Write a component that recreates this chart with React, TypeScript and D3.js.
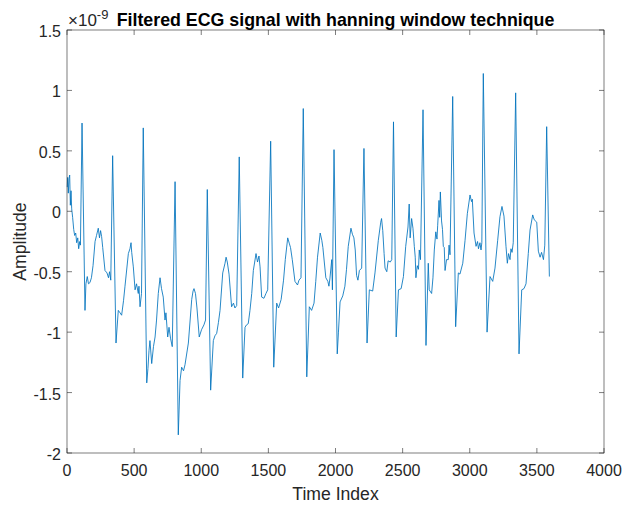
import React, { useEffect, useRef } from "react";
import * as d3 from "d3";

// samples (amplitude in units of 1e-9)
const timeIndex = [
  2, 5, 10, 15, 20, 25, 30, 35, 42, 50, 57, 65, 72, 80, 87, 95, 100, 112, 134, 141,
  151, 160, 171, 182, 194, 209, 220, 233, 242, 250, 258, 266, 283, 298, 309, 317, 326, 340, 365, 382,
  395, 407, 421, 432, 457, 469, 477, 482, 494, 507, 518, 531, 536, 544, 555, 568, 594, 603, 611, 618,
  631, 644, 656, 667, 680, 693, 704, 717, 730, 737, 750, 760, 771, 784, 805, 829, 842, 854, 868, 879,
  904, 929, 939, 946, 957, 968, 985, 1002, 1020, 1032, 1045, 1070, 1090, 1102, 1115, 1128, 1140, 1160, 1177, 1185,
  1194, 1207, 1226, 1240, 1251, 1264, 1283, 1309, 1326, 1337, 1350, 1363, 1376, 1388, 1408, 1419, 1430, 1438, 1450, 1467,
  1482, 1495, 1517, 1540, 1562, 1576, 1595, 1613, 1626, 1644, 1657, 1665, 1678, 1698, 1717, 1728, 1743, 1760, 1786, 1805,
  1822, 1840, 1853, 1866, 1886, 1898, 1906, 1928, 1943, 1951, 1958, 1972, 1977, 1989, 2013, 2022, 2034, 2054, 2070, 2082,
  2095, 2115, 2126, 2137, 2147, 2157, 2167, 2178, 2195, 2212, 2235, 2252, 2277, 2294, 2319, 2337, 2343, 2352, 2362, 2369,
  2382, 2392, 2408, 2419, 2432, 2452, 2469, 2489, 2506, 2523, 2540, 2549, 2556, 2567, 2577, 2587, 2594, 2599, 2609, 2618,
  2624, 2633, 2652, 2674, 2691, 2698, 2716, 2726, 2736, 2747, 2756, 2761, 2771, 2776, 2781, 2790, 2797, 2803, 2810, 2816,
  2827, 2840, 2846, 2853, 2873, 2895, 2915, 2927, 2948, 2965, 2982, 3002, 3013, 3019, 3032, 3047, 3058, 3065, 3076, 3084,
  3090, 3101, 3129, 3151, 3171, 3188, 3208, 3225, 3240, 3255, 3270, 3280, 3289, 3300, 3307, 3315, 3324, 3342, 3367, 3387,
  3404, 3419, 3436, 3449, 3469, 3480, 3499, 3511, 3524, 3535, 3549, 3559, 3573, 3593,
];
const amplitude = [
  0.2, 0.28, 0.15, 0.27, 0.3, 0.05, 0.17, 0.02, -0.05, -0.15, -0.2, -0.18, -0.26, -0.22, -0.31, -0.25, -0.28, 0.73, -0.82, -0.6,
  -0.54, -0.6, -0.59, -0.55, -0.45, -0.25, -0.2, -0.14, -0.22, -0.16, -0.21, -0.3, -0.49, -0.51, -0.55, -0.5, -0.57, 0.46, -1.09, -0.82,
  -0.84, -0.86, -0.74, -0.62, -0.35, -0.31, -0.26, -0.34, -0.46, -0.65, -0.6, -0.68, -0.62, -0.79, -0.68, 0.69, -1.42, -1.3, -1.15, -1.07,
  -1.26, -1.12, -1.04, -0.9, -0.68, -0.55, -0.64, -0.71, -0.9, -0.84, -1.04, -0.96, -1.05, -1.12, 0.245, -1.85, -1.4, -1.29, -1.32, -1.27,
  -1.09, -0.73, -0.66, -0.64, -0.68, -0.8, -1.04, -0.98, -0.94, -0.9, 0.18, -1.48, -1.07, -1.03, -1.01, -0.92, -0.82, -0.51, -0.43, -0.38,
  -0.42, -0.52, -0.79, -0.76, -0.8, -0.78, 0.45, -1.38, -0.96, -0.94, -0.93, -0.82, -0.68, -0.49, -0.35, -0.42, -0.37, -0.46, -0.71, -0.72,
  -0.68, -0.65, 0.58, -1.29, -0.76, -0.8, -0.73, -0.57, -0.4, -0.22, -0.27, -0.3, -0.4, -0.58, -0.61, -0.57, -0.55, 0.85, -1.37, -0.79,
  -0.82, -0.76, -0.58, -0.38, -0.18, -0.24, -0.3, -0.55, -0.58, -0.62, -0.56, -0.4, -0.65, 0.51, -1.18, -1.0, -0.75, -0.7, -0.62, -0.48,
  -0.29, -0.14, -0.19, -0.22, -0.32, -0.53, -0.57, -0.49, -0.47, 0.52, -1.09, -0.65, -0.66, -0.51, -0.24, -0.09, -0.06, -0.16, -0.35, -0.47,
  -0.5, -0.41, -0.42, -0.4, 0.74, -1.04, -0.65, -0.64, -0.54, -0.29, -0.13, 0.06, -0.22, -0.06, -0.14, -0.29, -0.38, -0.55, -0.45, -0.48,
  -0.32, -0.4, 0.84, -1.11, -0.43, -0.65, -0.68, -0.55, -0.32, -0.17, -0.23, -0.12, 0.09, -0.05, 0.16, -0.08, -0.15, -0.29, -0.3, -0.49,
  -0.4, -0.4, -0.28, -0.36, 0.95, -0.955, -0.51, -0.52, -0.43, -0.24, -0.02, 0.135, 0.08, 0.1, -0.18, -0.29, -0.25, -0.31, -0.26, -0.32,
  -0.26, 1.14, -1.0, -0.54, -0.58, -0.47, -0.24, -0.045, 0.04, -0.04, -0.29, -0.43, -0.35, -0.4, -0.31, -0.34, -0.26, 0.98, -1.18, -0.65,
  -0.64, -0.6, -0.35, -0.155, -0.03, -0.07, -0.09, -0.33, -0.38, -0.34, -0.4, -0.28, 0.7, -0.54,
];
const xTicks = [0, 500, 1000, 1500, 2000, 2500, 3000, 3500, 4000];
const yTicks = [-2, -1.5, -1, -0.5, 0, 0.5, 1, 1.5];

const W = 622;
const H = 506;
const m = { left: 67, right: 18, top: 30, bottom: 53 };
const font = "'Liberation Sans', Arial, Helvetica, sans-serif";
const axisColor = "#262626";

export default function App() {
  const ref = useRef<SVGSVGElement>(null);

  useEffect(() => {
    const svg = d3.select(ref.current);
    svg.selectAll("*").remove();

    const x = d3.scaleLinear().domain([0, 4000]).range([m.left, W - m.right]);
    const y = d3.scaleLinear().domain([-2, 1.5]).range([H - m.bottom, m.top]);
    const x0 = x.range()[0], x1 = x.range()[1];
    const y0 = y.range()[0], y1 = y.range()[1];
    const tick = 5;

    svg.append("rect").attr("width", W).attr("height", H).attr("fill", "#fff");

    // the signal
    const line = d3.line<number>()
      .x((d, i) => x(timeIndex[i]))
      .y((d) => y(d));
    svg.append("path")
      .datum(amplitude)
      .attr("d", line)
      .attr("fill", "none")
      .attr("stroke", "#0072BD")
      .attr("stroke-width", 0.85)
      .attr("stroke-linejoin", "round");

    const g = svg.append("g").attr("stroke", axisColor).attr("stroke-width", 0.6);
    g.append("rect")
      .attr("x", x0).attr("y", y1)
      .attr("width", x1 - x0).attr("height", y0 - y1)
      .attr("fill", "none");

    xTicks.forEach((t) => {
      g.append("line").attr("x1", x(t)).attr("x2", x(t)).attr("y1", y0).attr("y2", y0 - tick);
      g.append("line").attr("x1", x(t)).attr("x2", x(t)).attr("y1", y1).attr("y2", y1 + tick);
    });
    yTicks.forEach((t) => {
      g.append("line").attr("x1", x0).attr("x2", x0 + tick).attr("y1", y(t)).attr("y2", y(t));
      g.append("line").attr("x1", x1).attr("x2", x1 - tick).attr("y1", y(t)).attr("y2", y(t));
    });

    const txt = svg.append("g").attr("font-family", font).attr("fill", axisColor).attr("font-size", 16);
    xTicks.forEach((t) => {
      txt.append("text").attr("x", x(t)).attr("y", y0 + 23)
        .attr("text-anchor", "middle").text(String(t));
    });
    yTicks.forEach((t) => {
      txt.append("text").attr("x", x0 - 6).attr("y", y(t) + 7)
        .attr("text-anchor", "end").text(String(t));
    });

    txt.append("text")
      .attr("x", (x0 + x1) / 2).attr("y", y0 + 47)
      .attr("text-anchor", "middle").attr("font-size", 17.6)
      .text("Time Index");
    txt.append("text")
      .attr("transform", `translate(${26},${(y0 + y1) / 2}) rotate(-90)`)
      .attr("text-anchor", "middle").attr("font-size", 17.6)
      .text("Amplitude");

    // MATLAB-style exponent label
    const exp = txt.append("text").attr("x", x0 + 1).attr("y", y1 - 4).attr("font-size", 17);
    exp.append("tspan").text("\u00d710");
    exp.append("tspan").attr("dy", -7).attr("font-size", 13).text("-9");

    svg.append("text")
      .attr("x", (x0 + x1) / 2).attr("y", y1 - 4)
      .attr("text-anchor", "middle")
      .attr("font-family", font).attr("font-weight", "bold")
      .attr("font-size", 17.8).attr("fill", "#000")
      .text("Filtered ECG signal with hanning window technique");
  }, []);

  return (
    <div style={{ position: "fixed", left: 0, top: 0 }}>
      <svg ref={ref} width={W} height={H} style={{ display: "block" }} />
    </div>
  );
}
